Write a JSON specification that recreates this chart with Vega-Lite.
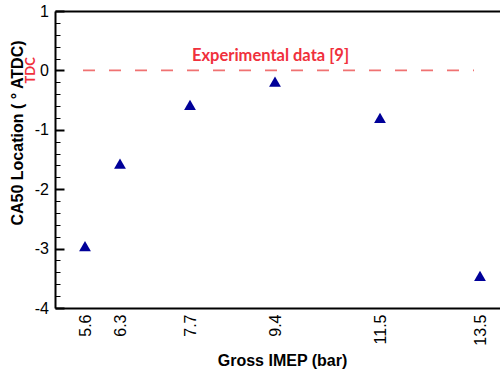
{
  "$schema": "https://vega.github.io/schema/vega-lite/v6.json",
  "autosize": "none",
  "width": 445,
  "height": 297,
  "padding": {"left": 55, "top": 11, "right": 0, "bottom": 63},
  "background": "white",
  "config": {"view": {"stroke": null}, "axis": {"grid": false}},
  "datasets": {
    "pts": [
      {"imep": 5.6, "ca50": -2.96},
      {"imep": 6.3, "ca50": -1.57},
      {"imep": 7.7, "ca50": -0.58},
      {"imep": 9.4, "ca50": -0.19},
      {"imep": 11.5, "ca50": -0.8},
      {"imep": 13.5, "ca50": -3.46}
    ],
    "exp": [{"x": 5.56, "x2": 13.38, "y": 0}],
    "lbl": [{"x": 9.31, "y": 0.165, "text": "Experimental data [9]"}],
    "tdc": [{"x": 4.515, "y": 0, "text": "TDC"}]
  },
  "resolve": {"axis": {"x": "independent", "y": "independent"}},
  "layer": [
    {
      "data": {"name": "pts"},
      "mark": {"type": "point", "shape": "triangle-up", "filled": true, "size": 140, "color": "#000099", "opacity": 1},
      "encoding": {
        "x": {
          "field": "imep", "type": "quantitative",
          "scale": {"domain": [5, 13.9], "nice": false, "zero": false},
          "axis": {
            "orient": "bottom",
            "values": [5.6, 6.3, 7.7, 9.4, 11.5, 13.5],
            "format": ".1f",
            "labelAngle": -90,
            "labelFont": "Liberation Sans",
            "labelFontSize": 16,
            "labelColor": "black",
            "labelPadding": 6,
            "ticks": false,
            "domainColor": "black",
            "domainWidth": 2,
            "title": "Gross IMEP (bar)",
            "titleFont": "Liberation Sans",
            "titleFontSize": 16,
            "titleFontWeight": "bold",
            "titleColor": "black",
            "titleBaseline": "alphabetic",
            "titleX": 227,
            "titleY": 57
          }
        },
        "y": {
          "field": "ca50", "type": "quantitative",
          "scale": {"domain": [-4, 1], "nice": false, "zero": false},
          "axis": {
            "orient": "left",
            "values": [-4, -3, -2, -1, 0, 1],
            "labelExpr": "'' + datum.value",
            "labelFont": "Liberation Sans",
            "labelFontSize": 16,
            "labelColor": "black",
            "labelPadding": 15.5,
            "tickSize": -9,
            "tickWidth": 2,
            "tickColor": "black",
            "domainColor": "black",
            "domainWidth": 2,
            "title": "CA50 Location ( ° ATDC)",
            "titleFont": "Liberation Sans",
            "titleFontSize": 16,
            "titleFontWeight": "bold",
            "titleColor": "black",
            "titleAngle": -90,
            "titleAlign": "center",
            "titleBaseline": "middle",
            "titleX": -38,
            "titleY": 121.5
          }
        }
      }
    },
    {
      "data": {"name": "exp"},
      "mark": {"type": "rule", "color": "#f07272", "strokeWidth": 1.6, "strokeDash": [12, 14]},
      "encoding": {
        "x": {
          "field": "x", "type": "quantitative",
          "axis": {"orient": "top", "labels": false, "ticks": false, "domainColor": "black", "domainWidth": 2, "title": null}
        },
        "x2": {"field": "x2"},
        "y": {
          "field": "y", "type": "quantitative",
          "axis": {
            "orient": "left",
            "values": [-3.8, -3.6, -3.4, -3.2, -2.8, -2.6, -2.4, -2.2, -1.8, -1.6, -1.4, -1.2, -0.8, -0.6, -0.4, -0.2, 0.2, 0.4, 0.6, 0.8],
            "labels": false,
            "domain": false,
            "tickSize": -5,
            "tickWidth": 1,
            "tickColor": "black",
            "title": null
          }
        }
      }
    },
    {
      "data": {"name": "lbl"},
      "mark": {"type": "text", "font": "Lato", "fontWeight": "bold", "fontSize": 16.5, "color": "#f0303c", "align": "center", "baseline": "alphabetic"},
      "encoding": {
        "x": {"field": "x", "type": "quantitative", "axis": null},
        "y": {"field": "y", "type": "quantitative", "axis": null},
        "text": {"field": "text"}
      }
    },
    {
      "data": {"name": "tdc"},
      "mark": {"type": "text", "font": "Lato", "fontWeight": "bold", "fontSize": 13, "color": "#f0303c", "align": "center", "baseline": "middle", "angle": 270, "clip": false},
      "encoding": {
        "x": {"field": "x", "type": "quantitative", "axis": null},
        "y": {"field": "y", "type": "quantitative", "axis": null},
        "text": {"field": "text"}
      }
    }
  ]
}
